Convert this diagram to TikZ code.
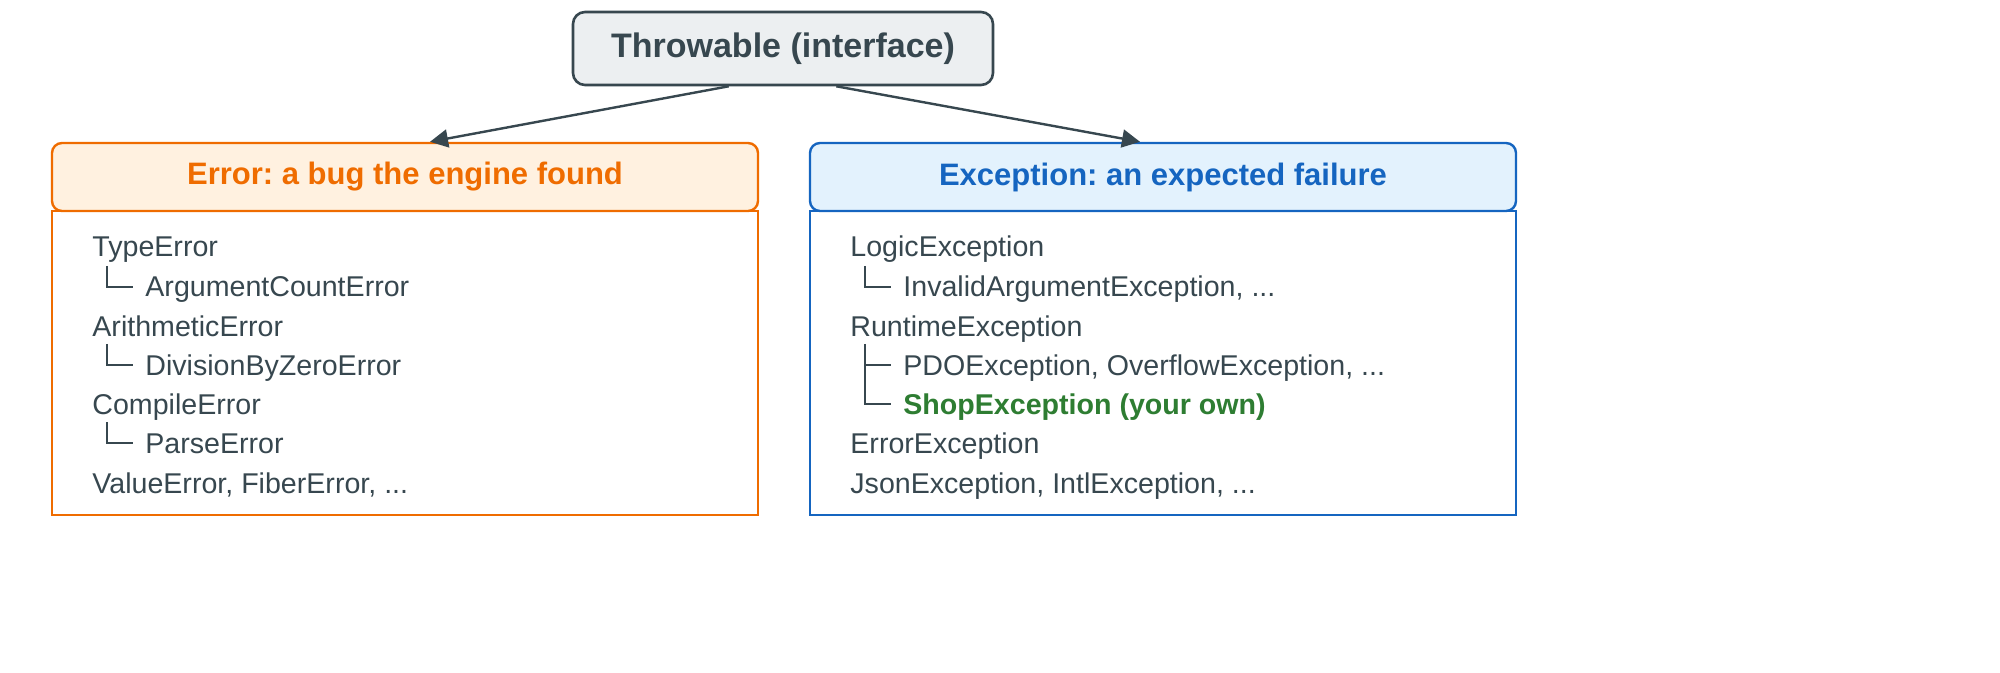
\documentclass[tikz,border=0pt]{standalone}
\usepackage{fontspec}
\setmainfont{Liberation Sans}
\usetikzlibrary{arrows.meta,positioning}
\frenchspacing
\definecolor{ink}{HTML}{37474F}
\definecolor{errc}{HTML}{EF6C00}
\definecolor{errf}{HTML}{FFF1E0}
\definecolor{excc}{HTML}{1565C0}
\definecolor{excf}{HTML}{E3F2FD}
\definecolor{rootf}{HTML}{ECEFF1}
\definecolor{ownc}{HTML}{2E7D32}
\tikzset{
  head/.style={draw, rounded corners=5pt, line width=1.2pt, minimum width=353pt,
    minimum height=34pt, font=\fontsize{15.5}{18}\selectfont\bfseries},
  body/.style={draw, line width=1.2pt, minimum width=353pt, minimum height=152pt},
  item/.style={anchor=base west, inner sep=0pt, text=ink, font=\fontsize{14.3}{17}\selectfont},
  branch/.style={draw=ink, line width=1.1pt},
  link/.style={draw=ink, line width=1.2pt, -{Triangle[length=9pt,width=9pt]}}
}
\begin{document}
\begin{tikzpicture}[x=0.5pt,y=-0.5pt]
  \useasboundingbox (0,0) rectangle (2000,673);

  % root
  \node[draw=ink, fill=rootf, text=ink, rounded corners=6pt, line width=1.3pt,
    minimum width=210pt, minimum height=36.5pt, font=\fontsize{17}{20}\selectfont\bfseries]
    (root) at (783,48.5) {Throwable (interface)};

  % Error side
  \node[head, draw=errc, fill=errf, text=errc] (errhead) at (405,177) {Error: a bug the engine found};
  \node[body, draw=errc] (errbody) at (405,363) {};
  \node[item] (typ)  at (92,257) {TypeError};
  \node[item] (arg)  at (145,297) {ArgumentCountError};
  \node[item] (ari)  at (92,336) {ArithmeticError};
  \node[item] (div)  at (145,375) {DivisionByZeroError};
  \node[item] (comp) at (92,414) {CompileError};
  \node[item] (pars) at (145,453) {ParseError};
  \node[item] (val)  at (92,493) {ValueError, FiberError, ...};
  \foreach \y in {287,365,443}
    \draw[branch] (107,\y-21) -- (107,\y) -- (133,\y);

  % Exception side
  \node[head, draw=excc, fill=excf, text=excc] (exchead) at (1163,177) {Exception: an expected failure};
  \node[body, draw=excc] (excbody) at (1163,363) {};
  \node[item] (logic) at (850,257) {LogicException};
  \node[item] (inv)   at (903,297) {InvalidArgumentException, ...};
  \node[item] (run)   at (850,336) {RuntimeException};
  \node[item] (pdo)   at (903,375) {PDOException, OverflowException, ...};
  \node[item, text=ownc, font=\fontsize{14.3}{17}\selectfont\bfseries] (shop) at (903,414) {ShopException (your own)};
  \node[item] (errx)  at (850,453) {ErrorException};
  \node[item] (json)  at (850,493) {JsonException, IntlException, ...};
  \draw[branch] (865,266) -- (865,287) -- (891,287);
  \draw[branch] (865,344) -- (865,404) -- (891,404);
  \draw[branch] (865,365) -- (891,365);

  \draw[link] (root.south west) ++(157,0) -- (errhead.north -| 430,0);
  \draw[link] (root.south east) ++(-158,0) -- (exchead.north -| 1140,0);
\end{tikzpicture}
\end{document}
